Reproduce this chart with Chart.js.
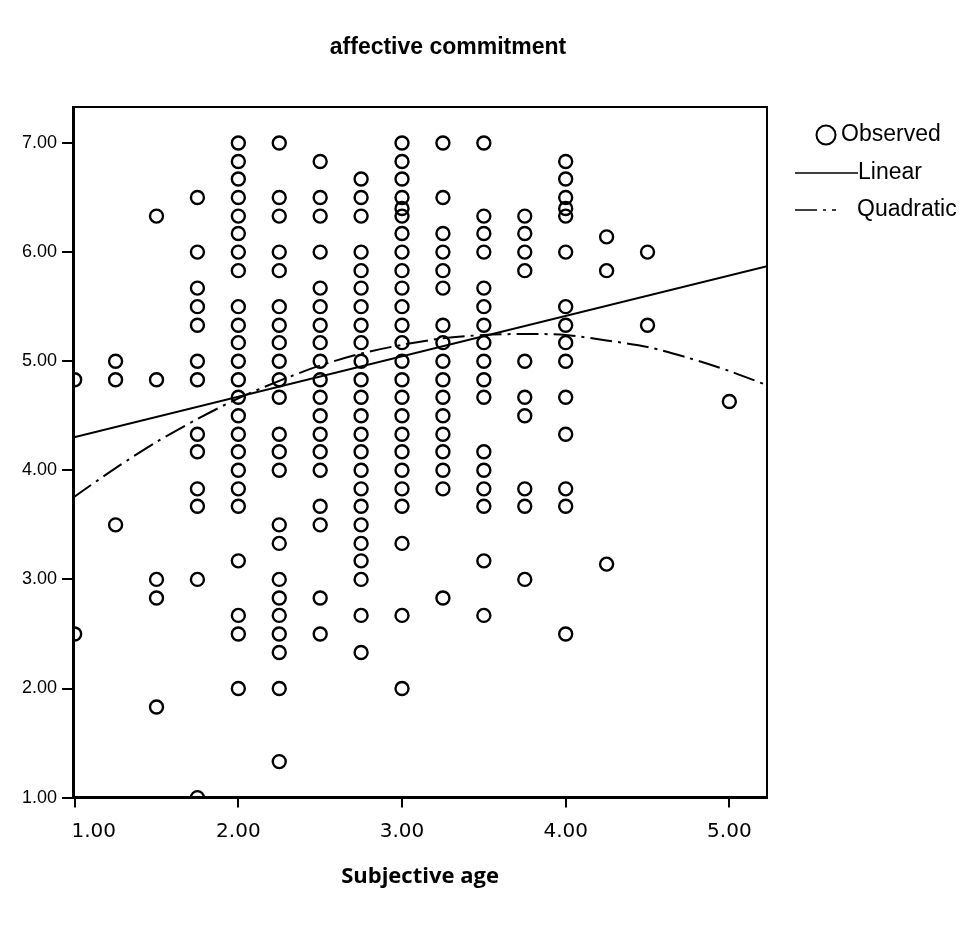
<!DOCTYPE html>
<html>
<head>
<meta charset="utf-8">
<title>affective commitment</title>
<script src="https://cdn.jsdelivr.net/npm/chart.js@4.4.1/dist/chart.umd.min.js"></script>
<style>
html, body { margin: 0; padding: 0; background: #fff; }
#wrap { width: 977px; height: 940px; }
</style>
</head>
<body>
<div id="wrap"><canvas id="chart" width="977" height="940"></canvas></div>
<script>
// --- data ---
const chartTitle = 'affective commitment';
const xTitle = 'Subjective age';

const ageLevels = [1.00, 1.25, 1.50, 1.75, 2.00, 2.25, 2.50, 2.75, 3.00, 3.25, 3.50, 3.75, 4.00, 4.25, 4.50, 5.00];

// observed affective commitment scores, one list per subjective age level
const commitByAge = [
  [4.83, 2.50],
  [5.00, 4.83, 3.50],
  [6.33, 4.83, 3.00, 2.83, 1.83],
  [6.50, 6.00, 5.67, 5.50, 5.33, 5.00, 4.83, 4.33, 4.17, 3.83, 3.67, 3.00, 1.00],
  [7.00, 6.83, 6.67, 6.50, 6.33, 6.17, 6.00, 5.83, 5.50, 5.33, 5.17, 5.00, 4.83, 4.67, 4.50, 4.33, 4.17, 4.00, 3.83, 3.67, 3.17, 2.67, 2.50, 2.00],
  [7.00, 6.50, 6.33, 6.00, 5.83, 5.50, 5.33, 5.17, 5.00, 4.83, 4.67, 4.33, 4.17, 4.00, 3.50, 3.33, 3.00, 2.83, 2.67, 2.50, 2.33, 2.00, 1.33],
  [6.83, 6.50, 6.33, 6.00, 5.67, 5.50, 5.33, 5.17, 5.00, 4.83, 4.67, 4.50, 4.33, 4.17, 4.00, 3.67, 3.50, 2.83, 2.50],
  [6.67, 6.50, 6.33, 6.00, 5.83, 5.67, 5.50, 5.33, 5.17, 5.00, 4.83, 4.67, 4.50, 4.33, 4.17, 4.00, 3.83, 3.67, 3.50, 3.33, 3.17, 3.00, 2.67, 2.33],
  [7.00, 6.83, 6.67, 6.50, 6.40, 6.33, 6.17, 6.00, 5.83, 5.67, 5.50, 5.33, 5.17, 5.00, 4.83, 4.67, 4.50, 4.33, 4.17, 4.00, 3.83, 3.67, 3.33, 2.67, 2.00],
  [7.00, 6.50, 6.17, 6.00, 5.83, 5.67, 5.33, 5.17, 5.00, 4.83, 4.67, 4.50, 4.33, 4.17, 4.00, 3.83, 2.83],
  [7.00, 6.33, 6.17, 6.00, 5.67, 5.50, 5.33, 5.17, 5.00, 4.83, 4.67, 4.17, 4.00, 3.83, 3.67, 3.17, 2.67],
  [6.33, 6.17, 6.00, 5.83, 5.00, 4.67, 4.50, 3.83, 3.67, 3.00],
  [6.83, 6.67, 6.50, 6.40, 6.33, 6.00, 5.50, 5.33, 5.17, 5.00, 4.67, 4.33, 3.83, 3.67, 2.50],
  [6.14, 5.83, 3.14],
  [6.00, 5.33],
  [4.63]
];

// fitted lines
const linearX = [0.99, 5.23];
const linearY = [4.30, 5.87];
const quadX = [0.99, 1.25, 1.50, 1.75, 2.00, 2.25, 2.50, 2.75, 3.00, 3.25, 3.50, 3.75, 4.00, 4.25, 4.50, 4.75, 5.00, 5.23];
const quadY = [3.75, 4.02, 4.26, 4.47, 4.66, 4.82, 4.96, 5.07, 5.15, 5.21, 5.24, 5.25, 5.24, 5.19, 5.13, 5.03, 4.91, 4.78];

const xTicks = [1, 2, 3, 4, 5];
const yTicks = [1, 2, 3, 4, 5, 6, 7];
const legendLabels = ['Observed', 'Linear', 'Quadratic'];

// --- build datasets ---
const observed = [];
ageLevels.forEach((age, i) => {
  commitByAge[i].forEach(v => observed.push({ x: age, y: v }));
});
const toPoints = (xs, ys) => xs.map((x, i) => ({ x: x, y: ys[i] }));

const QUAD_DASH = [22, 6, 3, 6];

// title drawn at the scan's off-centre spot
const headerText = {
  id: 'headerText',
  afterDraw(chart) {
    const ctx = chart.ctx;
    ctx.save();
    ctx.font = 'bold 23px "Liberation Sans", Arial, sans-serif';
    ctx.fillStyle = '#000';
    ctx.textAlign = 'center';
    ctx.textBaseline = 'middle';
    ctx.fillText(chartTitle, 448, 48);
    ctx.restore();
  }
};

// top + right edges of the plot box
const plotFrame = {
  id: 'plotFrame',
  afterDatasetsDraw(chart) {
    const { ctx, chartArea: a } = chart;
    ctx.save();
    ctx.strokeStyle = '#000';
    ctx.lineWidth = 2;
    ctx.beginPath();
    ctx.moveTo(a.left, a.top);
    ctx.lineTo(a.right, a.top);
    ctx.lineTo(a.right, a.bottom);
    ctx.stroke();
    ctx.restore();
  }
};

// SPSS-style legend beside the plot
const sideLegend = {
  id: 'sideLegend',
  afterDraw(chart) {
    const { ctx, chartArea: a } = chart;
    const mx = a.right + 28;
    const rows = [135, 173, 210];
    ctx.save();
    ctx.fillStyle = '#000';
    ctx.strokeStyle = '#000';
    ctx.font = '23px "Liberation Sans", Arial, sans-serif';
    ctx.textBaseline = 'middle';
    ctx.textAlign = 'left';

    ctx.lineWidth = 2;
    ctx.beginPath();
    ctx.arc(mx + 31, rows[0], 9.5, 0, Math.PI * 2);
    ctx.stroke();
    ctx.fillText(legendLabels[0], mx + 46, rows[0]);

    ctx.lineWidth = 1.5;
    ctx.beginPath();
    ctx.moveTo(mx, rows[1]);
    ctx.lineTo(mx + 63, rows[1]);
    ctx.stroke();
    ctx.fillText(legendLabels[1], mx + 63, rows[1]);

    ctx.setLineDash(QUAD_DASH);
    ctx.beginPath();
    ctx.moveTo(mx, rows[2]);
    ctx.lineTo(mx + 41, rows[2]);
    ctx.stroke();
    ctx.setLineDash([]);
    ctx.fillText(legendLabels[2], mx + 62, rows[2]);
    ctx.restore();
  }
};

const ctx = document.getElementById('chart').getContext('2d');
new Chart(ctx, {
  type: 'scatter',
  data: {
    datasets: [
      {
        label: legendLabels[0],
        data: observed,
        pointStyle: 'circle',
        pointRadius: 6.5,
        borderWidth: 2.4,
        borderColor: '#000',
        backgroundColor: 'rgba(0,0,0,0)',
        order: 2
      },
      {
        label: legendLabels[1],
        type: 'line',
        data: toPoints(linearX, linearY),
        borderColor: '#000',
        borderWidth: 2,
        pointRadius: 0,
        fill: false,
        order: 1
      },
      {
        label: legendLabels[2],
        type: 'line',
        data: toPoints(quadX, quadY),
        borderColor: '#000',
        borderWidth: 2,
        borderDash: QUAD_DASH,
        pointRadius: 0,
        tension: 0.3,
        fill: false,
        order: 1
      }
    ]
  },
  options: {
    responsive: false,
    animation: false,
    events: [],
    layout: { padding: { top: 107, left: 17, right: 210, bottom: 50 } },
    plugins: {
      legend: { display: false },
      tooltip: { enabled: false },
      title: { display: false }
    },
    scales: {
      x: {
        type: 'linear',
        min: 0.99,
        max: 5.23,
        afterBuildTicks: s => { s.ticks = xTicks.map(v => ({ value: v })); },
        ticks: {
          autoSkip: false,
          maxRotation: 0,
          padding: 12,
          color: '#000',
          font: { family: '"DejaVu Sans", Verdana, sans-serif', size: 20 },
          // SPSS nudges the first label inside the box
          callback: v => (v === 1 ? '      ' : '') + v.toFixed(2)
        },
        grid: { drawOnChartArea: false, drawTicks: true, tickLength: 10, color: '#000', lineWidth: 2 },
        border: { display: true, color: '#000', width: 3 },
        title: {
          display: true,
          text: xTitle,
          color: '#000',
          font: { family: '"Open Sans", sans-serif', size: 22, weight: 'bold' },
          padding: { top: 8, bottom: 0 }
        }
      },
      y: {
        type: 'linear',
        min: 1.0,
        max: 7.33,
        afterBuildTicks: s => { s.ticks = yTicks.map(v => ({ value: v })); },
        ticks: {
          padding: 5,
          color: '#000',
          font: { family: '"Liberation Sans", Arial, sans-serif', size: 18 },
          callback: v => v.toFixed(2)
        },
        grid: { drawOnChartArea: false, drawTicks: true, tickLength: 11, color: '#000', lineWidth: 2 },
        border: { display: true, color: '#000', width: 3 }
      }
    }
  },
  plugins: [headerText, plotFrame, sideLegend]
});
</script>
</body>
</html>
